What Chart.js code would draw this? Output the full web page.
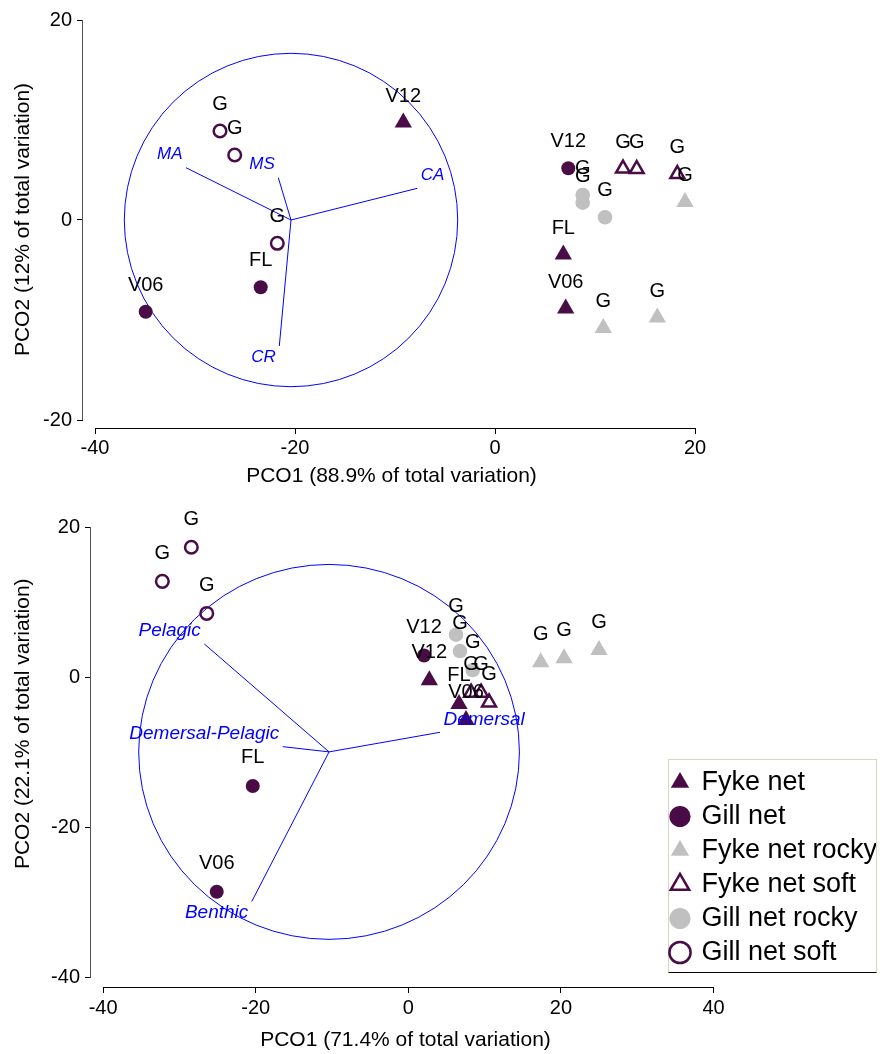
<!DOCTYPE html>
<html>
<head>
<meta charset="utf-8">
<script src="https://cdn.jsdelivr.net/npm/chart.js@4.4.0/dist/chart.umd.min.js"></script>
<style>
html,body{margin:0;padding:0;background:#fff;}
body{width:880px;height:1054px;position:relative;overflow:hidden;}
#c1{position:absolute;left:0;top:0;}
#c2{position:absolute;left:0;top:506px;}
#legendBox{position:absolute;left:668px;top:759px;width:207px;height:212px;border:1px solid #d9d5c3;border-bottom:1px solid #000;background:#fff;}
#c3{position:absolute;left:665px;top:757px;}
</style>
</head>
<body>
<canvas id="c1" width="880" height="500"></canvas>
<canvas id="c2" width="880" height="548"></canvas>
<div id="legendBox"></div>
<canvas id="c3" width="211" height="216"></canvas>
<script>
// ---------------- DATA ----------------
const seriesNames = ['Fyke net', 'Gill net', 'Fyke net rocky', 'Fyke net soft', 'Gill net rocky', 'Gill net soft'];

// Top panel
const topXTitle = 'PCO1 (88.9% of total variation)';
const topYTitle = 'PCO2 (12% of total variation)';
const topXTicks = [-40, -20, 0, 20];
const topYTicks = [-20, 0, 20];
const topFykeNet = [[-9.17, 9.75], [6.83, -3.45], [7.07, -8.85]];
const topFykeNetLabels = ['V12', 'FL', 'V06'];
const topGillNet = [[-34.93, -9.17], [-23.43, -6.73], [7.33, 5.17]];
const topGillNetLabels = ['V06', 'FL', 'V12'];
const topFykeRocky = [[19.0, 1.8], [10.83, -10.8], [16.23, -9.75]];
const topFykeRockyLabels = ['G', 'G', 'G'];
const topFykeSoft = [[12.8, 5.15], [14.17, 5.1], [18.23, 4.6]];
const topFykeSoftLabels = ['G', 'G', 'G'];
const topGillRocky = [[8.77, 2.5], [8.77, 1.73], [11.0, 0.27]];
const topGillRockyLabels = ['G', 'G', 'G'];
const topGillSoft = [[-21.77, -2.33], [-27.5, 8.9], [-26.03, 6.5]];
const topGillSoftLabels = ['G', 'G', 'G'];
const topVectorNames = ['MA', 'MS', 'CA', 'CR'];
const topVectorX = [-30.9, -21.67, -7.77, -21.57];
const topVectorY = [5.23, 4.23, 3.17, -12.6];
const topVectorOrigin = [-20.4, 0];
const topCircleRadius = 16.67;

// Bottom panel
const botXTitle = 'PCO1 (71.4% of total variation)';
const botYTitle = 'PCO2 (22.1% of total variation)';
const botXTicks = [-40, -20, 0, 20, 40];
const botYTicks = [-40, -20, 0, 20];
const botFykeNet = [[2.75, -0.4], [6.64, -3.55], [7.56, -5.7]];
const botFykeNetLabels = ['V12', 'FL', 'V06'];
const botGillNet = [[2.06, 2.9], [-20.39, -14.46], [-25.11, -28.54]];
const botGillNetLabels = ['V12', 'FL', 'V06'];
const botFykeRocky = [[17.35, 2.0], [20.41, 2.55], [24.99, 3.62]];
const botFykeRockyLabels = ['G', 'G', 'G'];
const botFykeSoft = [[8.22, -2.05], [9.53, -2.05], [10.58, -3.35]];
const botFykeSoftLabels = ['G', 'G', 'G'];
const botGillRocky = [[6.25, 5.67], [6.77, 3.49], [8.44, 0.97]];
const botGillRockyLabels = ['G', 'G', 'G'];
const botGillSoft = [[-32.24, 12.77], [-28.44, 17.31], [-26.42, 8.5]];
const botGillSoftLabels = ['G', 'G', 'G'];
const botVectorNames = ['Pelagic', 'Demersal-Pelagic', 'Benthic', 'Demersal'];
const botVectorX = [-26.74, -16.46, -20.52, 4.15];
const botVectorY = [4.44, -9.23, -29.84, -7.32];
const botVectorOrigin = [-10.39, -9.93];
const botCircleRadius = 24.95;

// ---------------- STYLES ----------------
const PURPLE = '#4a0c46';
const GRAY = '#c0c0c0';
const BLUE = '#0000ff';
const FONT = '"Liberation Sans", Arial, Helvetica, sans-serif';
const NONE = 'rgba(0,0,0,0)';
const seriesStyles = [
  {pointStyle: 'triangle', backgroundColor: PURPLE, borderColor: PURPLE, borderWidth: 0, radius: 10},
  {pointStyle: 'circle', backgroundColor: PURPLE, borderColor: PURPLE, borderWidth: 0, radius: 7},
  {pointStyle: 'triangle', backgroundColor: GRAY, borderColor: GRAY, borderWidth: 0, radius: 10},
  {pointStyle: 'triangle', backgroundColor: NONE, borderColor: PURPLE, borderWidth: 2.5, radius: 8},
  {pointStyle: 'circle', backgroundColor: GRAY, borderColor: GRAY, borderWidth: 0, radius: 7.3},
  {pointStyle: 'circle', backgroundColor: NONE, borderColor: PURPLE, borderWidth: 2.5, radius: 6.3}
];

Chart.defaults.font.family = FONT;
Chart.defaults.color = '#000';

// ---------------- PLUGINS ----------------
const pointLabelPlugin = {
  id: 'pointLabels',
  afterDatasetsDraw(chart, args, o) {
    const ctx = chart.ctx;
    ctx.save();
    ctx.font = o.font;
    ctx.fillStyle = '#000';
    ctx.textAlign = 'center';
    ctx.textBaseline = 'middle';
    chart.data.datasets.forEach((ds, i) => {
      if (!ds.pointLabels) return;
      const meta = chart.getDatasetMeta(i);
      meta.data.forEach((el, j) => {
        ctx.fillText(ds.pointLabels[j], el.x, el.y - o.offset);
      });
    });
    ctx.restore();
  }
};

const biplotPlugin = {
  id: 'biplot',
  beforeDatasetsDraw(chart, args, o) {
    const {ctx, scales: {x, y}} = chart;
    const cx = x.getPixelForValue(o.origin[0]);
    const cy = y.getPixelForValue(o.origin[1]);
    const rx = x.getPixelForValue(o.origin[0] + o.radius) - cx;
    const ry = cy - y.getPixelForValue(o.origin[1] + o.radius);
    ctx.save();
    ctx.beginPath();
    ctx.ellipse(cx, cy, rx, ry, 0, 0, Math.PI * 2);
    ctx.strokeStyle = BLUE;
    ctx.lineWidth = 1;
    ctx.stroke();
    ctx.restore();
  },
  afterDatasetsDraw(chart, args, o) {
    const ctx = chart.ctx;
    ctx.save();
    ctx.font = o.font;
    ctx.fillStyle = BLUE;
    ctx.textBaseline = 'middle';
    chart.data.datasets.forEach((ds, i) => {
      if (!ds.isVector) return;
      const meta = chart.getDatasetMeta(i);
      const a = meta.data[0], b = meta.data[1];
      const right = b.x >= a.x;
      ctx.textAlign = right ? 'left' : 'right';
      const tx = b.x + (right ? 3.5 : -3.5);
      const ty = b.y + (b.y < a.y ? -13 : 11);
      ctx.fillText(ds.label, tx, ty);
    });
    ctx.restore();
  }
};

const axisLinePlugin = {
  id: 'axisLines',
  afterLayout(chart, args, o) {
    // move the y-axis title centre (title is centred on the scale box)
    if (o.yTitleShift) chart.scales.y.bottom -= 2 * o.yTitleShift;
  },
  afterDraw(chart, args, o) {
    const {ctx, chartArea, scales: {x, y}} = chart;
    ctx.save();
    ctx.lineWidth = 1;
    ctx.strokeStyle = '#000';
    ctx.beginPath();
    const by = Math.round(chartArea.bottom) + 0.5;
    ctx.moveTo(x.getPixelForValue(o.xFrom), by);
    ctx.lineTo(x.getPixelForValue(o.xTo), by);
    ctx.stroke();
    ctx.strokeStyle = '#555';
    ctx.beginPath();
    const lx = Math.round(chartArea.left) - 0.5;
    ctx.moveTo(lx, y.getPixelForValue(o.yFrom));
    ctx.lineTo(lx, y.getPixelForValue(o.yTo));
    ctx.stroke();
    ctx.restore();
  }
};

// ---------------- BUILDERS ----------------
function pointDatasets(seriesData, seriesLabels) {
  return seriesData.map((arr, i) => ({
    label: seriesNames[i],
    data: arr.map(p => ({x: p[0], y: p[1]})),
    pointLabels: seriesLabels[i],
    pointStyle: seriesStyles[i].pointStyle,
    backgroundColor: seriesStyles[i].backgroundColor,
    borderColor: seriesStyles[i].borderColor,
    borderWidth: seriesStyles[i].borderWidth,
    pointRadius: seriesStyles[i].radius,
    pointHoverRadius: seriesStyles[i].radius,
    showLine: false,
    order: i
  }));
}

function vectorDatasets(names, vx, vy, origin) {
  return names.map((n, i) => ({
    label: n,
    isVector: true,
    data: [{x: origin[0], y: origin[1]}, {x: vx[i], y: vy[i]}],
    showLine: true,
    borderColor: BLUE,
    backgroundColor: BLUE,
    borderWidth: 1,
    pointRadius: 0,
    pointHoverRadius: 0,
    order: 20
  }));
}

function makeScales(c) {
  return {
    x: {
      type: 'linear', min: c.xMin, max: c.xMax,
      afterBuildTicks: s => { s.ticks = c.xTicks.map(v => ({value: v})); },
      afterFit: s => { s.height = c.xHeight; s.paddingLeft = 0; s.paddingRight = 0; },
      grid: {display: true, drawOnChartArea: false, drawTicks: true, tickLength: 6, color: '#000', lineWidth: 1},
      border: {display: false},
      ticks: {font: {size: 20}, color: '#000', padding: c.xTickPad, maxRotation: 0, autoSkip: false},
      title: {display: true, text: c.xTitle, font: {size: 21}, color: '#000', padding: {top: 0, bottom: c.xTitlePad}}
    },
    y: {
      type: 'linear', min: c.yMin, max: c.yMax,
      afterBuildTicks: s => { s.ticks = c.yTicks.map(v => ({value: v})); },
      afterFit: s => { s.width = c.yWidth; s.paddingTop = 0; s.paddingBottom = 0; },
      grid: {display: true, drawOnChartArea: false, drawTicks: true, tickLength: 6, color: '#000', lineWidth: 1},
      border: {display: false},
      ticks: {font: {size: 20}, color: '#000', padding: 5, autoSkip: false},
      title: {display: true, text: c.yTitle, font: {size: 21}, color: '#000', padding: {top: c.yTitlePad, bottom: 0}}
    }
  };
}

// ---------------- TOP CHART ----------------
new Chart(document.getElementById('c1'), {
  type: 'scatter',
  data: {
    datasets: [
      ...pointDatasets(
        [topFykeNet, topGillNet, topFykeRocky, topFykeSoft, topGillRocky, topGillSoft],
        [topFykeNetLabels, topGillNetLabels, topFykeRockyLabels, topFykeSoftLabels, topGillRockyLabels, topGillSoftLabels]),
      ...vectorDatasets(topVectorNames, topVectorX, topVectorY, topVectorOrigin)
    ]
  },
  options: {
    responsive: false, animation: false, devicePixelRatio: 1,
    layout: {padding: {left: 0, top: 15, right: 180, bottom: 0}},
    scales: makeScales({
      xMin: -41.2, xMax: 20.5, yMin: -20.8, yMax: 20.5,
      xTicks: topXTicks, yTicks: topYTicks, xHeight: 72, yWidth: 83,
      xTickPad: 2, xTitle: topXTitle, yTitle: topYTitle, xTitlePad: 10.7, yTitlePad: 10.4
    }),
    plugins: {
      legend: {display: false},
      tooltip: {enabled: false},
      pointLabels: {font: '20px ' + FONT, offset: 26.5},
      biplot: {origin: topVectorOrigin, radius: topCircleRadius, font: 'italic 17px ' + FONT},
      axisLines: {xFrom: -40, xTo: 20, yFrom: -20, yTo: 20, yTitleShift: 2}
    }
  },
  plugins: [biplotPlugin, pointLabelPlugin, axisLinePlugin]
});

// ---------------- BOTTOM CHART ----------------
new Chart(document.getElementById('c2'), {
  type: 'scatter',
  data: {
    datasets: [
      ...pointDatasets(
        [botFykeNet, botGillNet, botFykeRocky, botFykeSoft, botGillRocky, botGillSoft],
        [botFykeNetLabels, botGillNetLabels, botFykeRockyLabels, botFykeSoftLabels, botGillRockyLabels, botGillSoftLabels]),
      ...vectorDatasets(botVectorNames, botVectorX, botVectorY, botVectorOrigin)
    ]
  },
  options: {
    responsive: false, animation: false, devicePixelRatio: 1,
    layout: {padding: {left: 0, top: 2, right: 160, bottom: 0}},
    scales: makeScales({
      xMin: -41.59, xMax: 40.85, yMin: -41.22, yMax: 21.4,
      xTicks: botXTicks, yTicks: botYTicks, xHeight: 67, yWidth: 91,
      xTickPad: 3, xTitle: botXTitle, yTitle: botYTitle, xTitlePad: 1.4, yTitlePad: 10.7
    }),
    plugins: {
      legend: {display: false},
      tooltip: {enabled: false},
      pointLabels: {font: '20px ' + FONT, offset: 28},
      biplot: {origin: botVectorOrigin, radius: botCircleRadius, font: 'italic 19px ' + FONT},
      axisLines: {xFrom: -40, xTo: 40, yFrom: -40, yTo: 20, yTitleShift: 28}
    }
  },
  plugins: [biplotPlugin, pointLabelPlugin, axisLinePlugin]
});

// ---------------- LEGEND ----------------
new Chart(document.getElementById('c3'), {
  type: 'scatter',
  data: {
    datasets: seriesNames.map((n, i) => ({
      label: n,
      data: [],
      pointStyle: seriesStyles[i].pointStyle,
      backgroundColor: seriesStyles[i].backgroundColor,
      borderColor: seriesStyles[i].borderColor,
      borderWidth: seriesStyles[i].borderWidth
    }))
  },
  options: {
    responsive: false, animation: false, devicePixelRatio: 1,
    layout: {padding: {left: 0, top: 5, right: 0, bottom: 0}},
    scales: {x: {display: false}, y: {display: false}},
    plugins: {
      tooltip: {enabled: false},
      legend: {
        display: true, position: 'top', align: 'start', maxHeight: 400,
        labels: {usePointStyle: true, boxWidth: 16, boxHeight: 15, padding: 7, color: '#000', font: {size: 27, family: FONT}}
      }
    }
  }
});
</script>
</body>
</html>
